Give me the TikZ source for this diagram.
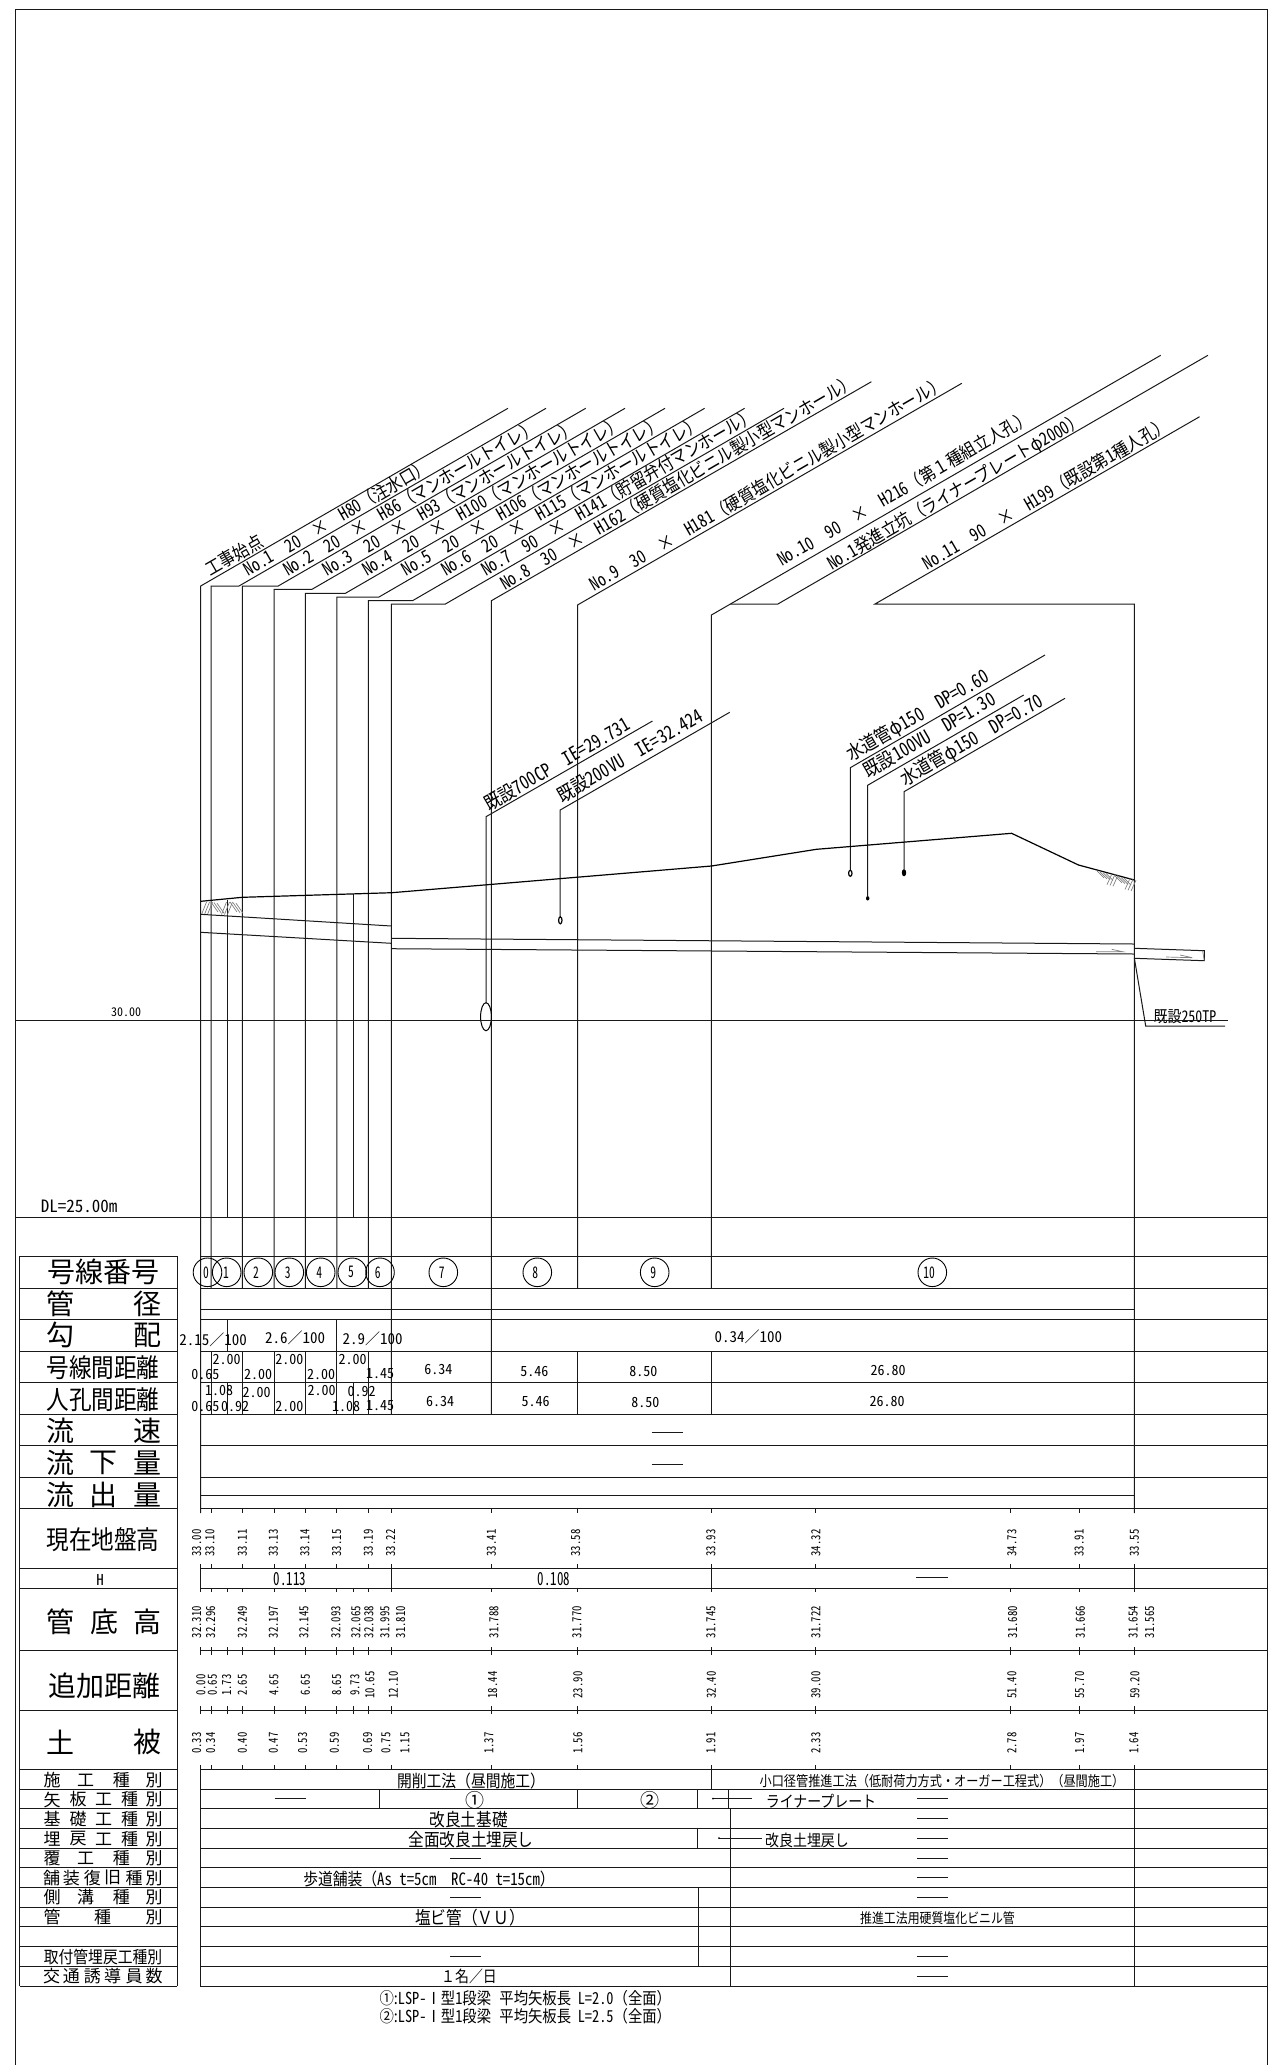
\documentclass[tikz,border=0pt]{standalone}
\usepackage{fontspec}
\setmainfont{Noto Sans CJK JP}
\newfontfamily\lj[FakeStretch=0.87]{Noto Sans CJK JP}
\newfontfamily\lh[FakeStretch=0.87,RawFeature={+hwid}]{Noto Sans CJK JP}
\newfontfamily\tn[RawFeature={+hwid}]{Noto Sans CJK JP}
\newfontfamily\tj{Noto Sans CJK JP}
\newfontfamily\vn[FakeStretch=0.86,RawFeature={+hwid}]{Noto Sans CJK JP}
\newfontfamily\nar[FakeStretch=0.72,RawFeature={+hwid}]{Noto Sans CJK JP}
\newfontfamily\sj[FakeStretch=0.85]{Noto Sans CJK JP}
\newcommand\fs[1]{\fontsize{#1}{#1}\selectfont}
\newcommand\LG{\hspace{.87em}}
\newcommand\LB[3]{{\lh #1\LG #2\LG}{\lj ×}{\lh\LG #3}}
\tikzset{
  ln/.style={line width=1pt,draw=black!90},
  gr/.style={line width=.7pt,draw=black!50},
  txt/.style={inner sep=0pt,outer sep=0pt},
  lead/.style={txt,rotate=30.1,anchor=base west,font=\fs{18}\lj},
  mid/.style={txt,rotate=30.1,anchor=base west,font=\fs{19}\lj},
  val/.style={txt,font=\fs{14}\tn},
  grad/.style={txt,font=\fs{15}\tn},
  vert/.style={txt,rotate=90,font=\fs{12.5}\vn},
  big/.style={txt,font=\fs{28}\tj},
  bign/.style={txt,font=\fs{26}\lj},
  small/.style={txt,font=\fs{17}\tj},
  row/.style={txt,font=\fs{18}\lj},
  dig/.style={txt,font=\fs{16}\nar},
}
\begin{document}
\begin{tikzpicture}[x=1pt,y=-1pt]
\useasboundingbox (0,0) rectangle (1268,2065);
% frame
\draw[ln] (15,2065) -- (15,9.5) -- (1267.5,9.5) -- (1267.5,2065);
% leaders
\draw[ln] (200.7,1513) -- (200.7,586) -- (507.9,408.3);
\draw[ln] (211,1288) -- (211,586) -- (239,586) -- (546,408.3);
\draw[ln] (242.4,1288) -- (242.4,586) -- (278.2,586) -- (585.7,408.3);
\draw[ln] (274,1288) -- (274,589.3) -- (312,589.3) -- (625,408.3);
\draw[ln] (305.4,1288) -- (305.4,593.3) -- (345.4,593.3) -- (665,408.3);
\draw[ln] (336.8,1288) -- (336.8,597) -- (379,597) -- (704.6,408.3);
\draw[ln] (368.4,1288) -- (368.4,600.7) -- (412.5,600.7) -- (744.6,408.3);
\draw[ln] (391.4,1414) -- (391.4,604) -- (445.4,604) -- (784,408.3);
\draw[ln] (491.4,1414) -- (491.4,600.7) -- (871.4,381.7);
\draw[ln] (577.5,1288) -- (577.5,605) -- (961.8,383.3);
\draw[ln] (711.4,1288) -- (711.4,615) -- (1160.7,355.3);
\draw[ln] (730.4,604) -- (777.9,604) -- (1207.9,355.3);
\draw[ln] (1134.4,1513) -- (1134.4,604) -- (875,604) -- (1199.6,416.7);
\draw[ln] (227.7,900) -- (227.7,1217);
\draw[ln] (353.7,894.3) -- (353.7,1217);
% leader labels
\node[lead] (a0) at (210.4,576.7) {工事始点};
\node[lead] (a1) at (248.6,576.7) {\LB{No.1}{20}{H80}（注水口）};
\node[lead] (a2) at (288,576.7) {\LB{No.2}{20}{H86}（マンホールトイレ）};
\node[lead] (a3) at (327.6,576.7) {\LB{No.3}{20}{H93}（マンホールトイレ）};
\node[lead] (a4) at (367,576.7) {\LB{No.4}{20}{H100}（マンホールトイレ）};
\node[lead] (a5) at (406.6,576.7) {\LB{No.5}{20}{H106}（マンホールトイレ）};
\node[lead] (a6) at (446,576.7) {\LB{No.6}{20}{H115}（マンホールトイレ）};
\node[lead] (a7) at (486,576.7) {\LB{No.7}{90}{H141}（貯留弁付マンホール）};
\node[lead] (a8) at (505,590) {\LB{No.8}{30}{H162}（硬質塩化ビニル製小型マンホール）};
\node[lead] (a9) at (594.3,591.7) {\LB{No.9}{30}{H181}（硬質塩化ビニル製小型マンホール）};
\node[lead] (a10) at (782,566.7) {\LB{No.10}{90}{H216}（第１種組立人孔）};
\node[lead] (a11) at (832,570) {{\lh No.1}発進立坑（ライナープレートφ{\lh 2000}）};
\node[lead] (a12) at (927.5,570) {\LB{No.11}{90}{H199}（既設第{\lh 1}種人孔）};
% utilities
\draw[ln] (486,1003) -- (486,816.7) -- (652.5,721);
\draw[ln] (560.2,917) -- (560.2,810) -- (729.7,712.3);
\draw[ln] (850.3,870) -- (850.3,767.7) -- (1045,655);
\draw[ln] (867.6,896) -- (867.6,785.3) -- (1023.7,695);
\draw[ln] (904,869) -- (904,791.7) -- (1065,698.3);
\node[mid] (u1) at (489,811.7) {既設{\lh 700CP\hspace{.87em}IE=29.731}};
\node[mid] (u2) at (562,803) {既設{\lh 200VU\hspace{.87em}IE=32.424}};
\node[mid] (u3) at (851,761.7) {水道管φ{\lh 150\hspace{.87em}DP=0.60}};
\node[mid] (u4) at (868.5,778.3) {既設{\lh 100VU\hspace{.87em}DP=1.30}};
\node[mid] (u5) at (905.3,786) {水道管φ{\lh 150\hspace{.87em}DP=0.70}};
\draw[line width=1pt] (486,1016.7) ellipse (5.4 and 14);
\draw[line width=1.2pt] (560.3,920.3) ellipse (1.7 and 3.5);
\draw[line width=1.2pt] (850.3,873.3) ellipse (1.7 and 3);
\fill (867.7,898.3) ellipse (1.7 and 2.2);
\fill (904,872.7) ellipse (2.2 and 3.6);
% ground
\draw[line width=1.2pt] (200.7,901.3) -- (242.3,897.3) -- (391.7,892.7) -- (711.5,866) -- (816.4,849.3) -- (1011.6,833.3) -- (1078.5,865) -- (1134.4,880);
% hatches
\foreach \g in {201.5,221.5}{\foreach \d in {0,3,6}{\draw[gr] (\g+\d,914.5) -- (\g+\d+5,902);}}
\foreach \g in {211,230}{\foreach \d in {0,3,6}{\draw[gr] (\g+\d,902+\d*.2) -- (\g+\d+7,912+\d*.2);}}
\foreach \g in {1097,1115}{\foreach \d in {0,3,6,9}{\draw[gr] (\g+\d,{866+(\g+\d-1078.5)*.268}) -- (\g+\d+7,{873+(\g+\d-1078.5)*.268});}}
\foreach \g in {1107,1125}{\foreach \d in {0,3,6}{\draw[gr] (\g+\d,{877+(\g+\d-1078.5)*.268}) -- (\g+\d+5,{866+(\g+\d-1078.5)*.268});}}
% pipes
\draw[ln] (200.7,914.3) -- (391.4,926);
\draw[ln] (200.7,932.3) -- (391.4,943.3);
\draw[ln] (391.4,938.3) -- (1134.4,944);
\draw[ln] (391.4,948.7) -- (1134.4,954);
\draw[ln] (1134.4,948.3) -- (1204.3,950.7) -- (1204.3,960.7) -- (1134.4,958.3);
\draw[gr] (1202.6,950.7) -- (1204.3,960.7);
\draw[gr] (1096,951.7) -- (1122.7,951.7) -- (1111.7,949.3);
\draw[gr] (1166,957) -- (1192.3,957.7) -- (1180,955);
\draw[ln] (1134.4,958.3) -- (1145.7,1026) -- (1225,1026);
\node[txt,font=\fs{16}\lj] (t250) at (1185,1016.7) {既設{\lh 250TP}};
% level lines
\draw[ln] (15,1020) -- (1228,1020);
\draw[ln] (15,1217) -- (1267.5,1217);
\node[txt,font=\fs{12}\tn] (t30) at (126,1012) {30.00};
\node[txt,font=\fs{17}\tn] (tdl) at (79,1206) {DL=25.00m};
% table rows
\foreach \y in {1256,1288,1319.3,1351,1382.7,1414,1445.7,1477.3,1508.5,1568,1588,1650.7,1710,1769.3,1789,1808.7,1828.3,1848,1867.7,1887.3,1907,1926.7,1946.3,1966.3,1986}{
  \draw[ln] (200.4,\y) -- (1267.5,\y);
  \draw[ln] (19.5,\y) -- (177,\y);
}
\draw[ln] (200.4,1309.7) -- (1134.4,1309.7);
\draw[ln] (200.4,1495.7) -- (1134.4,1495.7);
\draw[ln] (19.5,1256) -- (19.5,1986);
\draw[ln] (177,1256) -- (177,1986);
% verticals in rows
\foreach \x in {211,242.4,274,305.4,336.8,368.4,577.5,711.4}{\draw[ln] (\x,1351) -- (\x,1414);}
\foreach \x in {227.7,353.7}{\draw[ln] (\x,1382.7) -- (\x,1414);}
\foreach \x in {227.7,336.8}{\draw[ln] (\x,1319.3) -- (\x,1351);}
\foreach \x in {200.4,391.4,711.4,1134.4}{\draw[ln] (\x,1568) -- (\x,1588);}
\foreach \x in {200.4,1134.4}{\draw[ln] (\x,1769.3) -- (\x,1986);}
\draw[ln] (711.4,1769.3) -- (711.4,1789);
\foreach \x in {379.5,577.3,697.5,728.4}{\draw[ln] (\x,1789) -- (\x,1808.7);}
\draw[ln] (730.4,1808.7) -- (730.4,1986);
\draw[ln] (697.7,1828.3) -- (697.7,1848);
\draw[ln] (698.5,1887.3) -- (698.5,1966.3);
% ticks
\foreach \x in {200.4,211,242.4,274,305.4,336.8,368.4,391.4,491.4,577.5,711.4,815.8,1010.9,1079.2,1134.4}{
  \draw[ln] (\x,1508.5) -- (\x,1513);
  \draw[ln] (\x,1568) -- (\x,1564);
  \draw[ln] (\x,1769.3) -- (\x,1765);
  \draw[ln] (\x,1588) -- (\x,1592);
  \draw[ln] (\x,1647) -- (\x,1654.5);
  \draw[ln] (\x,1706) -- (\x,1714);
}
\foreach \x in {227.7,353.7}{
  \draw[ln] (\x,1588) -- (\x,1592);
  \draw[ln] (\x,1647) -- (\x,1654.5);
  \draw[ln] (\x,1706) -- (\x,1714);
}
% circles
\foreach \x/\dx/\t in {207.5/206/0,226.7/226/1,258.3/256/2,289.3/287.7/3,320.7/319.3/4,352.3/351/5,380/377.7/6,443.3/441.7/7,537.3/535.3/8,654.7/653.3/9,932.3/929/10}{
  \draw[line width=.9pt] (\x,1272.3) circle (14.3);
  \node[dig] at (\dx,1272.3) {\t};
}
% big left labels
\node[big] (l1) at (103,1272) {号線番号};
\node[big] at (60,1304) {管};\node[big] at (147,1304) {径};
\node[big] at (60,1335) {勾};\node[big] at (147,1335) {配};
\node[bign] at (103,1368) {号線間距離};
\node[bign] at (103,1400) {人孔間距離};
\node[big] at (60,1431) {流};\node[big] at (147,1431) {速};
\node[big] at (60,1463) {流};\node[big] at (103.5,1463) {下};\node[big] at (147,1463) {量};
\node[big] at (60,1495) {流};\node[big] at (103.5,1495) {出};\node[big] at (147,1495) {量};
\node[bign] at (103,1540) {現在地盤高};
\node[txt,font=\fs{15}\tn] at (100,1580) {H};
\node[big] at (60,1621.7) {管};\node[big] at (104,1621.7) {底};\node[big] at (147,1621.7) {高};
\node[big] at (104,1685.7) {追加距離};
\node[big] at (60,1742) {土};\node[big] at (147,1742) {被};
% small left labels
\foreach \y/\a/\b/\c/\d in {1780/施/工/種/別,1858/覆/工/種/別,1897/側/溝/種/別}{
  \node[small] at (52,\y) {\a};\node[small] at (85.7,\y) {\b};\node[small] at (121.4,\y) {\c};\node[small] at (154,\y) {\d};}
\foreach \y/\a/\b/\c/\d/\e in {1799.5/矢/板/工/種/別,1819/基/礎/工/種/別,1839/埋/戻/工/種/別}{
  \node[small] at (52,\y) {\a};\node[small] at (78,\y) {\b};\node[small] at (103.6,\y) {\c};\node[small] at (129.5,\y) {\d};\node[small] at (154,\y) {\e};}
\foreach \y/\a/\b/\c/\d/\e/\f in {1877.7/舗/装/復/旧/種/別,1976/交/通/誘/導/員/数}{
  \node[small] at (51.5,\y) {\a};\node[small] at (71.4,\y) {\b};\node[small] at (92.4,\y) {\c};\node[small] at (112.5,\y) {\d};\node[small] at (134,\y) {\e};\node[small] at (154,\y) {\f};}
\node[small] at (52,1917) {管};\node[small] at (102.7,1917) {種};\node[small] at (154,1917) {別};
\node[txt,font=\fs{17}\lj] at (103,1956.5) {取付管埋戻工種別};
% gradient
\node[grad] at (213,1339.3) {2.15{\tj ／}100};
\node[grad] at (295,1337.7) {2.6{\tj ／}100};
\node[grad] at (372.5,1338.3) {2.9{\tj ／}100};
\node[grad] at (748.3,1336.7) {0.34{\tj ／}100};
% distances
\foreach \x/\y/\t in {226.7/1359/2.00,205.3/1374.3/0.65,258/1374/2.00,289.3/1359/2.00,321/1374/2.00,352.7/1359/2.00,380/1374/1.45,438.3/1369.3/6.34,534.3/1371/5.46,643.3/1371/8.50,888/1370/26.80,
  219/1390/1.08,205.3/1406/0.65,235/1406/0.92,256.7/1392.3/2.00,289.3/1406/2.00,321.7/1390/2.00,346/1406/1.08,361.7/1391/0.92,380/1406/1.45,440/1401/6.34,535.7/1401/5.46,645.3/1402/8.50,887/1401.3/26.80}{
  \node[val] at (\x,\y) {\t};}
% short dashes
\foreach \a/\b/\y in {651.7/683.3/1432.3,651.7/683.3/1464,916/948/1577.7,274.5/306/1798.3,450/481.3/1858,450/481.3/1897.3,450/481.3/1956.7,916.8/948.4/1798.7,916.8/948.4/1818,916.8/948.4/1838,916.8/948.4/1858,916.8/948.4/1877.7,916.8/948.4/1897,916.8/948.4/1956.5,916.8/948.4/1976}{
  \draw[ln] (\a,\y) -- (\b,\y);}
\node[txt,font=\fs{18}\nar] at (290,1579.3) {0.113};
\node[txt,font=\fs{18}\nar] at (554,1579.3) {0.108};
% vertical numbers
\foreach \x/\t in {196.7/33.00,210/33.10,242.3/33.11,273.3/33.13,305/33.14,336.7/33.15,368.3/33.19,390.7/33.22,491.3/33.41,575.6/33.58,711/33.93,815.8/34.32,1011.8/34.73,1079.2/33.91,1134.5/33.55}{
  \node[vert] at (\x,1543) {\t};}
\foreach \x/\t in {196.7/32.310,210.7/32.296,242.3/32.249,273.3/32.197,304/32.145,336/32.093,356/32.065,369/32.038,385/31.995,400.7/31.810,494/31.788,577/31.770,711/31.745,815.8/31.722,1012.7/31.680,1080.5/31.666,1133.2/31.654,1149.7/31.565}{
  \node[vert] at (\x,1622) {\t};}
\foreach \x/\t in {201/0.00,212.3/0.65,226.7/1.73,242.3/2.65,274/4.65,305.3/6.65,336.7/8.65,355/9.73,370/10.65,393.3/12.10,492.6/18.44,577.9/23.90,711.3/32.40,815.8/39.00,1011.8/51.40,1079.6/55.70,1135/59.20}{
  \node[vert] at (\x,1685) {\t};}
\foreach \x/\t in {196.7/0.33,210.7/0.34,242.3/0.40,273.3/0.47,302.7/0.53,334.3/0.59,367.7/0.69,386/0.75,405/1.15,489/1.37,578/1.56,711/1.91,815.8/2.33,1011.8/2.78,1079.6/1.97,1134/1.64}{
  \node[vert] at (\x,1743) {\t};}
% lower rows
\node[txt,font=\fs{17}\lj] at (471,1780.7) {開削工法（昼間施工）};
\node[txt,font=\fs{19}\tj] at (475.4,1800.3) {①};
\node[txt,font=\fs{19}\tj] at (649.5,1800.3) {②};
\node[row] at (468.7,1820) {改良土基礎};
\node[row] at (471,1840) {全面改良土埋戻し};
\node[txt,font=\fs{17}\lj] at (429,1879.3) {歩道舗装（{\lh As t=5cm\hspace{.87em}RC-40 t=15cm}）};
\node[row] at (470,1918) {塩ビ管（ＶＵ）};
\node[txt,font=\fs{16}\lj] at (469,1976.7) {１名／日};
\node[txt,font=\fs{14.3}\sj] at (942,1780.7) {小口径管推進工法（低耐荷力方式・オーガー工程式）（昼間施工）};
\node[txt,font=\fs{16}\lj] at (821,1800.7) {ライナープレート};
\node[txt,font=\fs{16}\lj] at (807,1840) {改良土埋戻し};
\node[txt,font=\fs{14}\sj] at (937.5,1918) {推進工法用硬質塩化ビニル管};
\draw[ln] (713,1798.7) -- (751.7,1798.7);
\fill (713,1798.7) circle (1);
\draw[ln] (719,1838) -- (762.3,1838);
\fill (719,1838) circle (1);
% notes
\node[txt,font=\fs{16.5}\lj,anchor=west] at (379.5,1998) {①:{\lh LSP-}Ⅰ型{\lh 1}段梁\hspace{.5em}平均矢板長\hspace{.4em}{\lh L=2.0}（全面）};
\node[txt,font=\fs{16.5}\lj,anchor=west] at (379.5,2016.7) {②:{\lh LSP-}Ⅰ型{\lh 1}段梁\hspace{.5em}平均矢板長\hspace{.4em}{\lh L=2.5}（全面）};
\end{tikzpicture}
\end{document}
